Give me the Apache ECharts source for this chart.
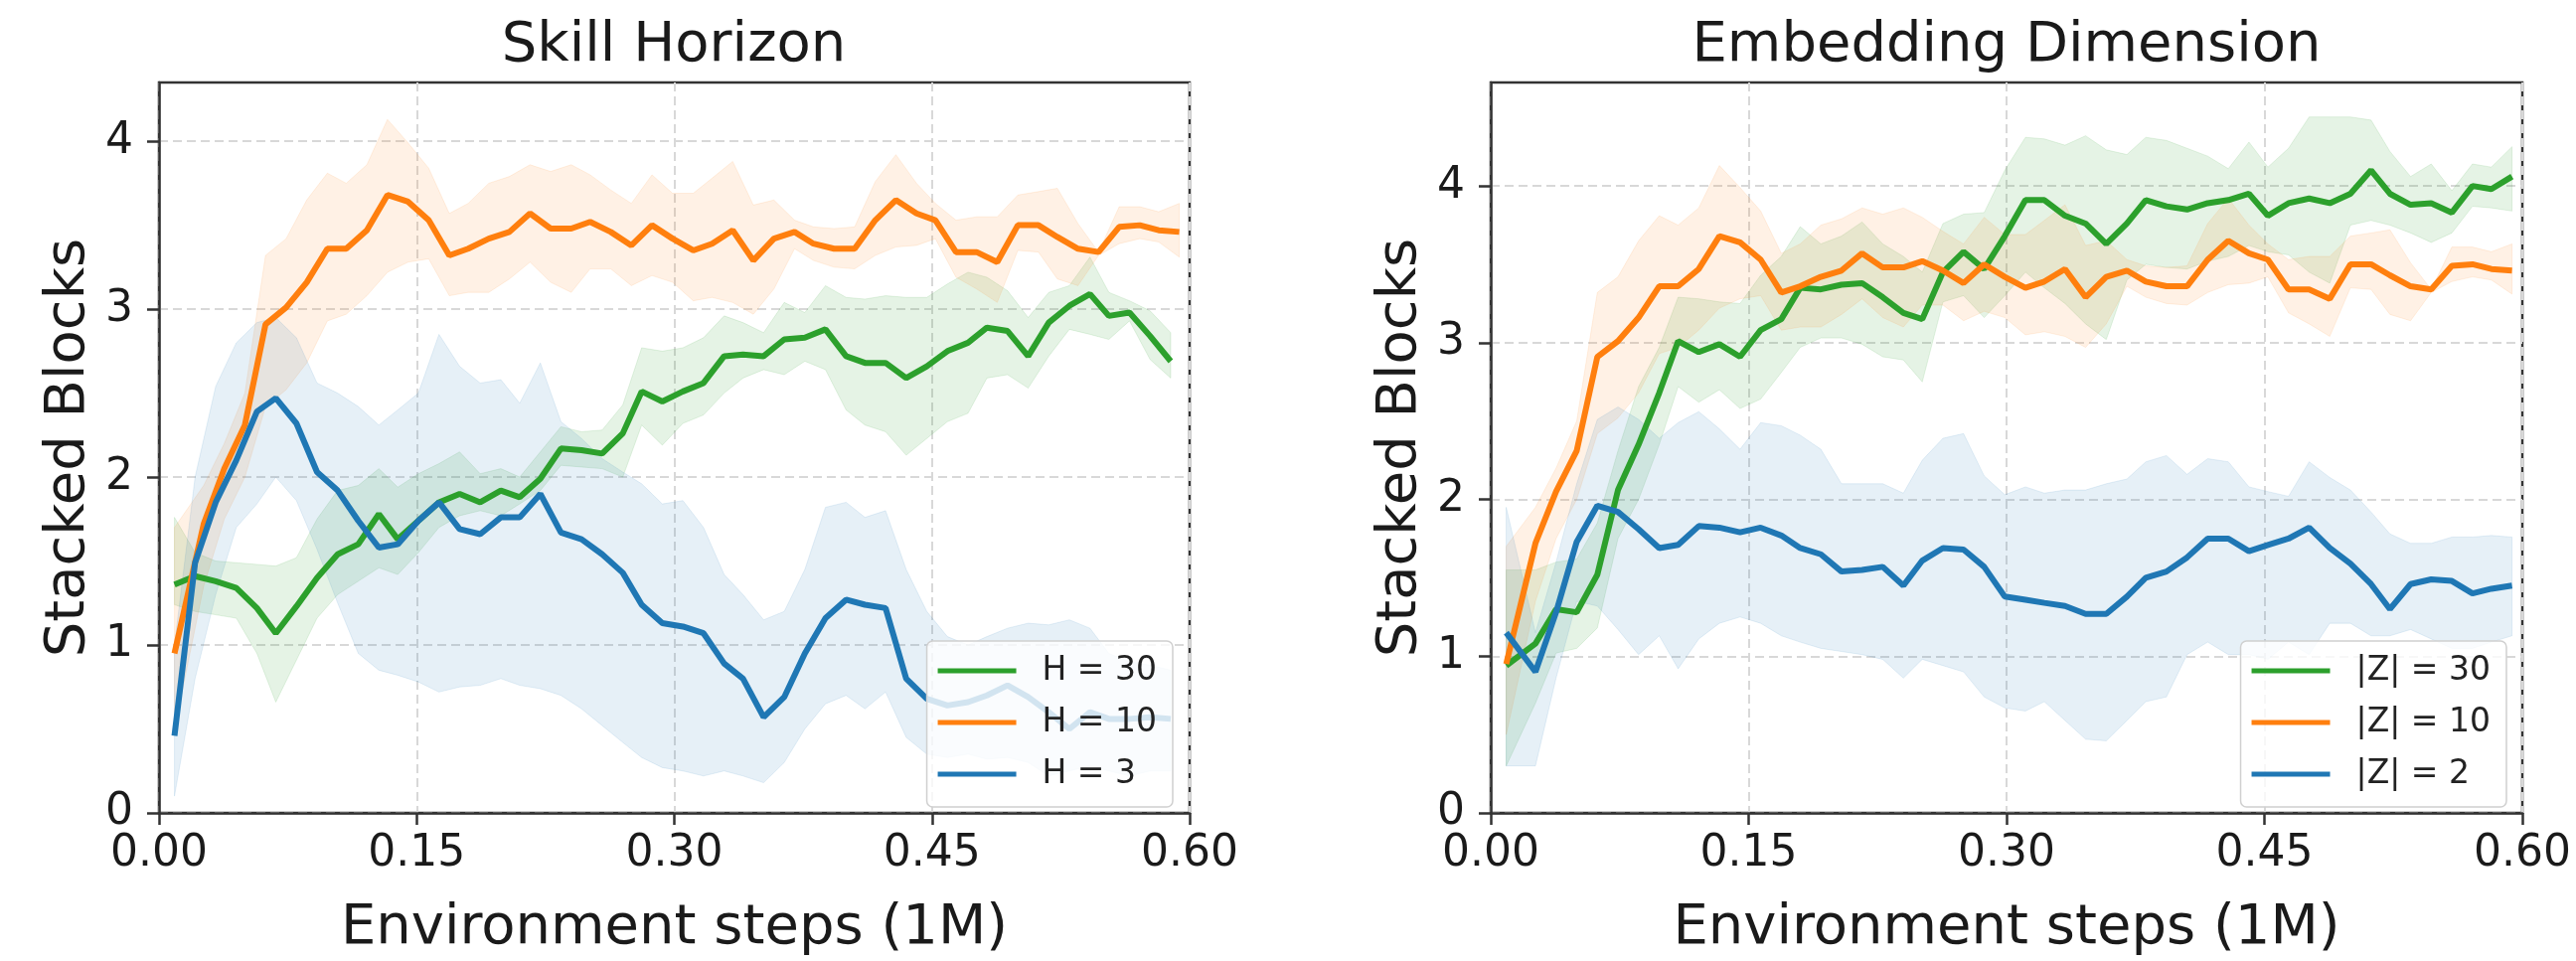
<!DOCTYPE html>
<html>
<head>
<meta charset="utf-8">
<script src="https://cdn.jsdelivr.net/npm/echarts@6/dist/echarts.min.js"></script>
<style>
html,body{margin:0;padding:0;background:#fff;}
#chart{width:2592px;height:967px;}
</style>
</head>
<body>
<div id="chart"></div>
<script>
// ---- x positions (environment steps, 1M) ----
const stepsA = [0.009,0.021,0.033,0.045,0.057,0.068,0.080,0.092,0.104,0.116,0.128,0.139,0.151,0.163,0.175,0.187,0.199,0.210,0.222,0.234,0.246,0.258,0.270,0.281,0.293,0.305,0.317,0.329,0.340,0.352,0.364,0.376,0.388,0.400,0.411,0.423,0.435,0.447,0.459,0.471,0.482,0.494,0.506,0.518,0.530,0.542,0.553,0.565,0.577,0.589];
const stepsB = [0.009,0.026,0.038,0.050,0.062,0.074,0.086,0.098,0.109,0.121,0.133,0.145,0.157,0.169,0.180,0.192,0.204,0.216,0.228,0.240,0.251,0.263,0.275,0.287,0.299,0.311,0.322,0.334,0.346,0.358,0.370,0.381,0.393,0.405,0.417,0.429,0.441,0.452,0.464,0.476,0.488,0.500,0.512,0.523,0.535,0.547,0.559,0.571,0.582,0.594];

// ---- default run (H = 10, |Z| = 10), shown in both panels ----
const h10Mean  = [0.95,1.72,2.05,2.31,2.91,3.01,3.16,3.36,3.36,3.47,3.68,3.64,3.53,3.32,3.36,3.42,3.46,3.57,3.48,3.48,3.52,3.46,3.38,3.50,3.42,3.35,3.39,3.47,3.29,3.42,3.46,3.39,3.36,3.36,3.53,3.65,3.57,3.53,3.34,3.34,3.28,3.50,3.50,3.43,3.36,3.34,3.49,3.50,3.47,3.46];
const h10Upper = [1.70,1.95,2.20,2.50,3.32,3.42,3.65,3.81,3.75,3.86,4.13,3.99,3.84,3.57,3.63,3.75,3.79,3.86,3.82,3.86,3.80,3.71,3.63,3.80,3.69,3.69,3.78,3.88,3.62,3.65,3.53,3.49,3.48,3.49,3.76,3.92,3.75,3.63,3.53,3.55,3.55,3.68,3.70,3.72,3.51,3.34,3.61,3.61,3.58,3.63];
const h10Lower = [0.50,1.35,1.75,2.00,2.42,2.52,2.68,2.93,2.97,3.08,3.22,3.28,3.30,3.08,3.10,3.10,3.18,3.28,3.16,3.10,3.24,3.24,3.14,3.20,3.16,3.05,3.07,3.04,2.97,3.12,3.36,3.29,3.25,3.24,3.32,3.37,3.38,3.42,3.19,3.12,3.04,3.35,3.34,3.18,3.14,3.32,3.39,3.42,3.40,3.31];

// ---- Skill Horizon: H = 30 ----
const h30Mean  = [1.36,1.41,1.38,1.34,1.22,1.07,1.23,1.40,1.54,1.60,1.78,1.63,1.74,1.85,1.90,1.85,1.92,1.88,1.99,2.17,2.16,2.14,2.26,2.51,2.45,2.51,2.56,2.72,2.73,2.72,2.82,2.83,2.88,2.72,2.68,2.68,2.59,2.66,2.75,2.80,2.89,2.87,2.72,2.92,3.02,3.09,2.96,2.98,2.84,2.69];
const h30Upper = [1.76,1.55,1.50,1.49,1.48,1.47,1.52,1.75,1.92,1.95,2.05,1.94,2.02,2.08,2.15,2.02,2.05,2.00,2.15,2.30,2.27,2.28,2.43,2.77,2.75,2.77,2.83,2.96,2.92,2.86,3.04,2.98,3.14,3.07,3.06,3.08,3.07,3.07,3.15,3.22,3.19,3.11,2.95,3.10,3.14,3.31,3.10,3.05,2.99,2.86];
const h30Lower = [1.24,1.20,1.18,1.16,0.95,0.66,0.91,1.16,1.30,1.38,1.46,1.42,1.55,1.70,1.77,1.80,1.77,1.84,1.92,2.07,2.06,2.05,2.00,2.31,2.19,2.32,2.37,2.50,2.59,2.64,2.61,2.69,2.64,2.40,2.31,2.27,2.13,2.23,2.33,2.38,2.59,2.61,2.53,2.72,2.88,2.85,2.82,2.93,2.70,2.59];

// ---- Skill Horizon: H = 3 ----
const h3Mean  = [0.46,1.49,1.85,2.10,2.39,2.47,2.32,2.03,1.92,1.74,1.58,1.60,1.74,1.85,1.69,1.66,1.76,1.76,1.90,1.67,1.63,1.54,1.43,1.24,1.13,1.11,1.07,0.89,0.80,0.57,0.69,0.95,1.16,1.27,1.24,1.22,0.80,0.68,0.64,0.66,0.70,0.76,0.69,0.60,0.50,0.60,0.56,0.56,0.57,0.56];
const h3Upper = [1.00,2.00,2.54,2.80,2.92,2.95,2.83,2.56,2.50,2.42,2.31,2.40,2.50,2.85,2.66,2.56,2.58,2.44,2.68,2.33,2.23,2.11,2.03,1.96,1.84,1.86,1.70,1.42,1.30,1.15,1.20,1.45,1.82,1.85,1.76,1.80,1.45,1.20,1.05,1.00,1.05,1.10,1.13,1.12,1.15,1.10,0.95,0.90,0.88,0.85];
const h3Lower = [0.10,0.80,1.30,1.70,1.84,2.00,1.86,1.57,1.25,0.95,0.85,0.82,0.78,0.72,0.75,0.76,0.80,0.76,0.74,0.70,0.62,0.52,0.42,0.33,0.27,0.25,0.22,0.25,0.22,0.18,0.30,0.50,0.65,0.70,0.62,0.72,0.45,0.35,0.33,0.35,0.32,0.33,0.30,0.22,0.25,0.28,0.25,0.22,0.25,0.25];

// ---- Embedding Dimension: |Z| = 30 ----
const z30Mean  = [0.94,1.08,1.30,1.28,1.52,2.06,2.35,2.68,3.01,2.94,2.99,2.91,3.08,3.15,3.35,3.34,3.37,3.38,3.29,3.19,3.15,3.45,3.58,3.47,3.68,3.91,3.91,3.81,3.76,3.63,3.76,3.91,3.87,3.85,3.89,3.91,3.95,3.81,3.89,3.92,3.89,3.95,4.10,3.95,3.88,3.89,3.83,4.00,3.98,4.06];
const z30Upper = [1.55,1.55,1.60,1.62,1.85,2.31,2.72,2.97,3.29,3.28,3.26,3.25,3.43,3.55,3.74,3.63,3.68,3.77,3.63,3.55,3.45,3.76,3.82,3.83,4.10,4.31,4.30,4.26,4.32,4.23,4.20,4.31,4.29,4.24,4.19,4.11,4.28,4.12,4.24,4.44,4.44,4.44,4.42,4.22,4.06,4.14,3.97,4.14,4.12,4.25];
const z30Lower = [0.30,0.70,1.02,1.05,1.18,1.75,2.00,2.35,2.72,2.62,2.70,2.58,2.64,2.81,2.97,3.03,3.03,2.99,2.91,2.89,2.75,3.26,3.30,3.16,3.30,3.45,3.35,3.25,3.12,3.02,3.40,3.50,3.48,3.47,3.52,3.55,3.62,3.58,3.56,3.45,3.38,3.75,3.78,3.75,3.70,3.64,3.70,3.87,3.86,3.84];

// ---- Embedding Dimension: |Z| = 2 ----
const z2Mean  = [1.15,0.90,1.28,1.73,1.96,1.92,1.81,1.69,1.71,1.83,1.82,1.79,1.82,1.77,1.69,1.65,1.54,1.55,1.57,1.45,1.61,1.69,1.68,1.57,1.38,1.36,1.34,1.32,1.27,1.27,1.38,1.50,1.54,1.63,1.75,1.75,1.67,1.71,1.75,1.82,1.69,1.59,1.46,1.30,1.46,1.49,1.48,1.40,1.43,1.45];
const z2Upper = [1.95,1.15,1.60,2.10,2.51,2.59,2.51,2.39,2.49,2.56,2.45,2.32,2.49,2.47,2.41,2.32,2.10,2.10,2.10,2.04,2.25,2.39,2.42,2.15,2.03,2.08,2.04,2.06,2.06,2.10,2.13,2.24,2.28,2.16,2.26,2.24,2.08,2.05,2.02,2.24,2.14,2.06,1.92,1.78,1.72,1.72,1.76,1.76,1.77,1.76];
const z2Lower = [0.30,0.30,0.86,1.35,1.32,1.17,1.01,1.13,0.92,1.11,1.21,1.25,1.21,1.13,1.09,1.05,1.03,1.01,0.98,0.86,0.98,0.94,0.90,0.74,0.67,0.65,0.71,0.59,0.47,0.46,0.59,0.71,0.74,1.01,1.09,1.01,1.01,0.98,1.09,1.01,1.21,1.21,1.13,1.13,1.17,1.11,1.05,1.05,1.09,1.13];

// ---- labels / ticks ----
const panelTitles = ['Skill Horizon', 'Embedding Dimension'];
const xName = 'Environment steps (1M)';
const yName = 'Stacked Blocks';
const yTicks = [0, 1, 2, 3, 4];
const legendLeft = ['H = 30', 'H = 10', 'H = 3'];
const legendRight = ['|Z| = 30', '|Z| = 10', '|Z| = 2'];

const GREEN = '#2ca02c', ORANGE = '#ff7f0e', BLUE = '#1f77b4';
const FONT = 'DejaVu Sans';

function pairs(xs, ys) { return xs.map((x, i) => [x, ys[i]]); }

// shaded band between lower and upper, drawn as one polygon through the axes' scales
function band(id, panel, xs, lo, hi, rgba) {
  return {
    type: 'custom', name: id + '-band', xAxisIndex: panel, yAxisIndex: panel,
    silent: true, z: 1, clip: true,
    data: xs.map((x, i) => [x, lo[i], hi[i]]),
    encode: { x: 0, y: [1, 2] },
    renderItem: function (params, api) {
      if (params.dataIndex !== 0) return null;
      const pts = [];
      for (let i = 0; i < xs.length; i++) pts.push(api.coord([xs[i], hi[i]]));
      for (let i = xs.length - 1; i >= 0; i--) pts.push(api.coord([xs[i], lo[i]]));
      return { type: 'polygon', shape: { points: pts },
        style: { fill: rgba, stroke: rgba, lineWidth: 1 } };
    }
  };
}
function meanLine(name, panel, xs, ys, color, z) {
  return { type: 'line', name: name, xAxisIndex: panel, yAxisIndex: panel,
    data: pairs(xs, ys), symbol: 'none', z: z, color: color,
    lineStyle: { color: color, width: 6 }, itemStyle: { color: color } };
}

const series = [
  band('h30', 0, stepsA, h30Lower, h30Upper, 'rgba(44,160,44,0.12)'),
  band('h10', 0, stepsB, h10Lower, h10Upper, 'rgba(255,127,14,0.11)'),
  band('h3', 0, stepsA, h3Lower, h3Upper, 'rgba(31,119,180,0.11)'),
  band('z30', 1, stepsB, z30Lower, z30Upper, 'rgba(44,160,44,0.12)'),
  band('z10', 1, stepsB, h10Lower, h10Upper, 'rgba(255,127,14,0.11)'),
  band('z2', 1, stepsB, z2Lower, z2Upper, 'rgba(31,119,180,0.11)'),
  meanLine(legendLeft[0], 0, stepsA, h30Mean, GREEN, 2),
  meanLine(legendLeft[1], 0, stepsB, h10Mean, ORANGE, 3),
  meanLine(legendLeft[2], 0, stepsA, h3Mean, BLUE, 4),
  meanLine(legendRight[0], 1, stepsB, z30Mean, GREEN, 2),
  meanLine(legendRight[1], 1, stepsB, h10Mean, ORANGE, 3),
  meanLine(legendRight[2], 1, stepsB, z2Mean, BLUE, 4)
];

function xAxis(panel) {
  return {
    type: 'value', gridIndex: panel, min: 0, max: 0.6, interval: 0.15,
    name: xName, nameLocation: 'middle', nameGap: 88,
    nameTextStyle: { fontFamily: FONT, fontSize: 56, color: '#1a1a1a' },
    axisLine: { show: true, onZero: false, lineStyle: { color: '#333', width: 2.5 } },
    axisTick: { show: true, length: 12, lineStyle: { color: '#333', width: 2.5 } },
    axisLabel: { fontFamily: FONT, fontSize: 44, color: '#1a1a1a', margin: 20,
      formatter: v => v.toFixed(2) },
    splitLine: { show: true, lineStyle: { color: '#d8d8d8', width: 2, type: [9, 5] } }
  };
}
function yAxis(panel, max) {
  return {
    type: 'value', gridIndex: panel, min: 0, max: max, interval: 1,
    name: yName, nameLocation: 'middle', nameGap: 63, nameRotate: 90,
    nameTextStyle: { fontFamily: FONT, fontSize: 56, color: '#1a1a1a' },
    axisLine: { show: true, onZero: false, lineStyle: { color: '#333', width: 2.5 } },
    axisTick: { show: true, length: 12, customValues: yTicks, lineStyle: { color: '#333', width: 2.5 } },
    axisLabel: { fontFamily: FONT, fontSize: 44, color: '#1a1a1a', margin: 26,
      customValues: yTicks },
    splitLine: { show: true, lineStyle: { color: '#d8d8d8', width: 2, type: [9, 5] } }
  };
}
function legend(names, right) {
  return {
    data: names, orient: 'vertical', right: right, bottom: 155, z: 20,
    icon: 'rect', itemWidth: 79, itemHeight: 5, itemGap: 12,
    padding: [10, 16, 13, 11],
    backgroundColor: 'rgba(255,255,255,0.8)', borderColor: '#d0d0d0', borderWidth: 1.5, borderRadius: 6,
    textStyle: { fontFamily: FONT, fontSize: 33, color: '#222', lineHeight: 40, padding: [0, 0, 0, 21] }
  };
}

const option = {
  animation: false,
  backgroundColor: '#fff',
  title: [
    { text: panelTitles[0], left: 678, top: 18, textAlign: 'center', padding: 0,
      textStyle: { fontFamily: FONT, fontSize: 56, fontWeight: 'normal', color: '#1a1a1a' } },
    { text: panelTitles[1], left: 2019, top: 18, textAlign: 'center', padding: 0,
      textStyle: { fontFamily: FONT, fontSize: 56, fontWeight: 'normal', color: '#1a1a1a' } }
  ],
  grid: [
    { left: 160, top: 83, width: 1037, height: 746, show: true, borderColor: '#333', borderWidth: 2.5, backgroundColor: 'transparent' },
    { left: 1500, top: 83, width: 1038, height: 746, show: true, borderColor: '#333', borderWidth: 2.5, backgroundColor: 'transparent' }
  ],
  xAxis: [xAxis(0), xAxis(1)],
  yAxis: [yAxis(0, 4.35), yAxis(1, 4.66)],
  legend: [legend(legendLeft, 1412), legend(legendRight, 70)],
  series: series
};

const chart = echarts.init(document.getElementById('chart'), null, { renderer: 'canvas' });
chart.setOption(option);
</script>
</body>
</html>
